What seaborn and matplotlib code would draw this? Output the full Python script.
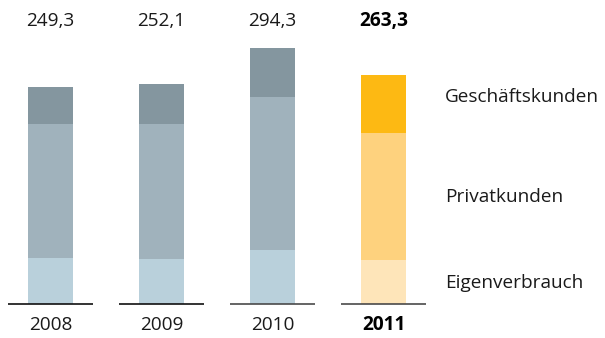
import matplotlib
matplotlib.use("Agg")
import matplotlib.pyplot as plt
import seaborn as sns
import pandas as pd

years = ["2008", "2009", "2010", "2011"]
eigenverbrauch = [52.8, 51.7, 62.0, 50.5]
privatkunden = [153.9, 155.0, 175.7, 145.8]
geschaeftskunden = [42.6, 45.4, 56.6, 67.0]
totals = [249.3, 252.1, 294.3, 263.3]
segment_names = ["Geschäftskunden", "Privatkunden", "Eigenverbrauch"]

top_colors = ["#84969F", "#84969F", "#84969F", "#FDB913"]
mid_colors = ["#A0B2BC", "#A0B2BC", "#A0B2BC", "#FED27E"]
low_colors = ["#B9D0DB", "#B9D0DB", "#B9D0DB", "#FEE5B9"]
base_colors = ["#111111", "#111111", "#4a4a4a", "#4a4a4a"]

sns.set_theme(style="white")
plt.rcParams["font.family"] = ["Open Sans", "DejaVu Sans"]

df = pd.DataFrame({
    "year": years,
    "low": eigenverbrauch,
    "mid": [a + b for a, b in zip(eigenverbrauch, privatkunden)],
    "top": [a + b + c for a, b, c in zip(eigenverbrauch, privatkunden, geschaeftskunden)],
})

fig = plt.figure(figsize=(6.05, 3.38), dpi=100)
ax = fig.add_axes([0, 0, 1, 1])

bar_w = 0.41
# stacked bars drawn as overlapping cumulative layers, tallest first
for col, pal in (("top", top_colors), ("mid", mid_colors), ("low", low_colors)):
    sns.barplot(data=df, x="year", y=col, hue="year", palette=pal,
                width=bar_w, legend=False, ax=ax, saturation=1,
                linewidth=0, edgecolor="none")

for i, c in enumerate(base_colors):
    ax.hlines(0, i - 0.383, i + 0.383, color=c, linewidth=1.2, zorder=5)

fs = 13.7
for i, (yr, tot) in enumerate(zip(years, totals)):
    bold = i == len(years) - 1
    ax.text(i, 325, f"{tot:.1f}".replace(".", ","), ha="center", va="center",
            fontsize=fs, color="#000000" if bold else "#1a1a1a",
            fontweight="bold" if bold else "normal")
    ax.text(i, -24, yr, ha="center", va="center", fontsize=fs,
            color="#000000" if bold else "#1a1a1a",
            fontweight="bold" if bold else "normal")

for name, y in zip(segment_names, [237.7, 122.8, 24.1]):
    ax.text(3.554, y, name, ha="left", va="center", fontsize=fs, color="#1a1a1a")

ax.set_xlim(-0.455, 4.995)
ax.set_ylim(-39.0, 349.0)
ax.axis("off")

fig.savefig("out.png", dpi=100)
